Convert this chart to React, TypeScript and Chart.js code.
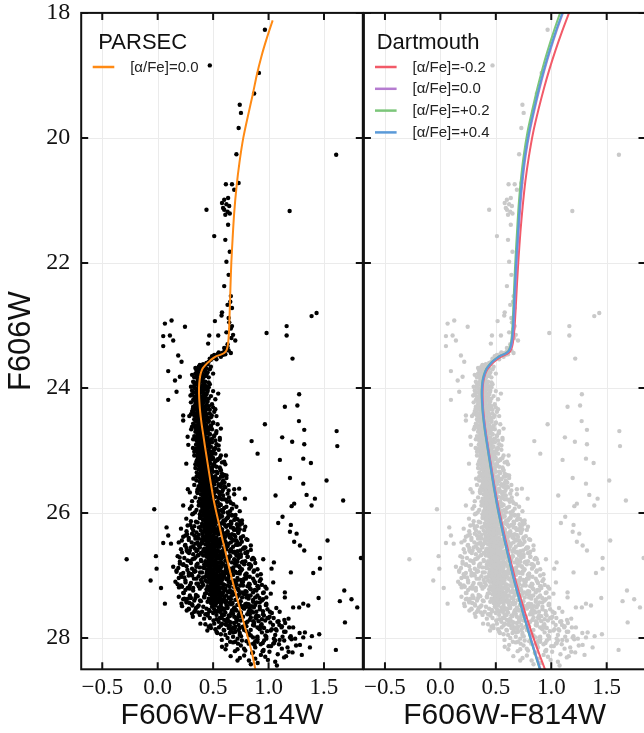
import React, { useEffect, useRef } from "react";
import { Chart, registerables } from "chart.js";

Chart.register(...registerables);

type P = [number, number];

// ---------- axes ----------
const xTicks = [-0.5, 0, 0.5, 1, 1.5];
const yTicks = [18, 20, 22, 24, 26, 28];
const xRange: P = [-0.69, 1.85];
const yRange: P = [18, 28.5];
const xTitle = "F606W-F814W";
const yTitle = "F606W";

// ---------- legends ----------
const parsecTitle = "PARSEC";
const parsecLabels = ["[α/Fe]=0.0"];
const dartmouthTitle = "Dartmouth";
const dartmouthLabels = ["[α/Fe]=-0.2", "[α/Fe]=0.0", "[α/Fe]=+0.2", "[α/Fe]=+0.4"];
const parsecColors = ["#ff8a14"];
const dartmouthColors = ["#f25a68", "#b57cd0", "#7cc67a", "#5a9ad8"];

// ---------- stars (color, magnitude) ----------
const rgbStars: P[] = [
  [0.967,18.27],[0.913,18.96],[0.87,19.29],[0.751,19.60],[0.47,18.84],[0.74,19.47],[0.73,19.84],[0.71,20.26],
  [0.615,20.74],[0.67,20.74],[0.73,20.72],[0.69,20.83],[0.60,20.99],[0.62,21.06],[0.59,21.12],[0.63,21.18],
  [0.61,21.23],[0.645,21.09],[0.58,21.04],[0.635,20.96],[0.60,21.15],[0.65,21.21],[0.44,21.15],[0.51,21.57],
  [0.635,21.39],[0.61,21.63],[0.65,21.82],[0.62,21.98],[0.64,22.19],[0.60,22.37],[0.66,22.53],[0.63,22.67],
  [0.58,22.79],[0.64,22.88],[0.67,23.01],[0.62,23.11],[0.665,23.20],[0.63,23.30],[0.70,23.24],[0.465,23.16],
  [0.546,23.16],[0.516,22.93],[0.576,22.84],[0.455,23.29],[0.655,22.62],[0.67,22.72],[0.645,22.95],[0.66,23.05],
  [0.68,23.15],[1.19,21.17],[1.61,20.27]
];

const blueStragglers: P[] = [
  [0.065,22.97],[0.125,22.92],[0.05,23.17],[0.11,23.16],[0.05,23.33],[0.14,23.24],[0.246,23.02],[0.185,23.48],
  [0.215,23.58],[0.095,23.73],[0.156,23.88],[0.2,23.82],[0.17,24.06],[0.095,24.19],[0.23,24.44],[0.23,24.52],
  [0.276,24.91],[0.5,23.77],[0.546,24.09]
];

const subgiantStars: P[] = [
  [0.62,23.38],[0.60,23.42],[0.58,23.44],[0.64,23.40],[0.56,23.47],[0.54,23.46],[0.52,23.50],[0.50,23.52],
  [0.48,23.55],[0.47,23.53],[0.46,23.58],[0.44,23.60],[0.55,23.43],[0.59,23.47],[0.51,23.47],[0.53,23.54],
  [0.57,23.50],[0.61,23.46],[0.63,23.35],[0.49,23.49],[0.45,23.62],[0.43,23.64],[0.42,23.67],[0.41,23.62],
  [0.66,23.44],[0.60,23.36],
  [0.38,23.70],[0.40,23.68],[0.36,23.74],[0.42,23.72],[0.39,23.76],[0.35,23.80],[0.44,23.69],[0.37,23.66],
  [0.41,23.79],[0.34,23.77],[0.43,23.81],[0.38,23.84],[0.36,23.69],[0.40,23.73],[0.45,23.75],[0.33,23.83],
  [0.39,23.82],[0.42,23.65],[0.37,23.78],[0.47,23.70],[0.35,23.72],[0.41,23.84],[0.44,23.78],[0.38,23.63],
  [0.36,23.85],[0.48,23.66],[0.40,23.64],[0.34,23.68],[0.43,23.74],[0.39,23.71],[0.31,23.79],[0.46,23.83]
];

const msBright: P[] = [
  [0.36,23.88],[0.38,23.91],[0.34,23.94],[0.40,23.89],[0.37,23.97],[0.33,23.99],[0.42,23.93],[0.35,24.02],
  [0.39,24.00],[0.41,24.04],[0.36,23.95],[0.38,24.03],[0.32,23.90],[0.44,23.97],[0.37,23.86],[0.40,23.96],
  [0.34,24.01],[0.43,24.02],[0.35,23.92],[0.39,23.87],[0.31,24.04],[0.46,23.91],[0.38,23.98],[0.36,24.05],
  [0.41,23.90],[0.33,23.96],[0.42,24.00],[0.37,23.93],[0.30,23.98],[0.45,24.04],
  [0.35,24.08],[0.37,24.11],[0.39,24.07],[0.33,24.14],[0.41,24.12],[0.36,24.17],[0.38,24.20],[0.34,24.22],
  [0.40,24.18],[0.42,24.09],[0.32,24.19],[0.37,24.24],[0.35,24.13],[0.39,24.15],[0.44,24.21],[0.36,24.06],
  [0.31,24.10],[0.38,24.16],[0.41,24.24],[0.34,24.18],[0.43,24.14],[0.37,24.09],[0.30,24.23],[0.40,24.21],
  [0.36,24.25],[0.46,24.17],[0.33,24.07],[0.39,24.23],[0.35,24.20],[0.42,24.19],
  [0.36,24.28],[0.38,24.31],[0.34,24.34],[0.40,24.29],[0.37,24.37],[0.33,24.40],[0.42,24.33],[0.35,24.43],
  [0.39,24.38],[0.41,24.42],[0.36,24.35],[0.44,24.27],[0.32,24.30],[0.38,24.44],[0.40,24.36],[0.34,24.26],
  [0.43,24.39],[0.37,24.41],[0.31,24.37],[0.45,24.34],[0.35,24.32],[0.39,24.27],[0.42,24.45],[0.36,24.39],
  [0.47,24.41],[0.33,24.44],[0.38,24.29],[0.41,24.31],[0.30,24.42],[0.36,24.30],
  [0.37,24.48],[0.39,24.51],[0.35,24.54],[0.41,24.49],[0.38,24.57],[0.34,24.60],[0.43,24.53],[0.36,24.63],
  [0.40,24.58],[0.42,24.62],[0.37,24.55],[0.45,24.47],[0.33,24.50],[0.39,24.64],[0.41,24.56],[0.35,24.46],
  [0.44,24.59],[0.38,24.61],[0.32,24.57],[0.46,24.54],[0.36,24.52],[0.40,24.47],[0.43,24.65],[0.37,24.59],
  [0.48,24.61],[0.34,24.64],[0.39,24.49],[0.42,24.51],[0.31,24.62],[0.38,24.53],[0.50,24.56],[0.44,24.50],
  [0.37,24.68],[0.40,24.71],[0.36,24.74],[0.42,24.69],[0.39,24.77],[0.35,24.80],[0.44,24.73],[0.37,24.83],
  [0.41,24.78],[0.43,24.82],[0.38,24.75],[0.46,24.67],[0.34,24.70],[0.40,24.84],[0.42,24.76],[0.36,24.66],
  [0.45,24.79],[0.39,24.81],[0.33,24.77],[0.47,24.74],[0.37,24.72],[0.41,24.67],[0.44,24.85],[0.38,24.79],
  [0.49,24.81],[0.35,24.84],[0.40,24.69],[0.43,24.71],[0.32,24.82],[0.39,24.73],[0.51,24.76],[0.45,24.70],
  [0.48,24.83],[0.36,24.78],
  [0.38,24.88],[0.41,24.91],[0.37,24.94],[0.43,24.89],[0.40,24.97],[0.36,25.00],[0.45,24.93],[0.38,25.03],
  [0.42,24.98],[0.44,25.02],[0.39,24.95],[0.47,24.87],[0.35,24.90],[0.41,25.04],[0.43,24.96],[0.37,24.86],
  [0.46,24.99],[0.40,25.01],[0.34,24.97],[0.48,24.94],[0.38,24.92],[0.42,24.87],[0.45,25.05],[0.39,24.99],
  [0.50,25.01],[0.36,25.04],[0.41,24.89],[0.44,24.91],[0.33,25.02],[0.40,24.93],[0.52,24.96],[0.46,24.90],
  [0.49,25.03],[0.37,24.98],[0.55,24.92],[0.43,25.00]
];

const msBrightExtra: P[] = [
  [0.335,23.93],[0.412,23.95],[0.357,24.03],[0.448,24.06],[0.296,24.12],[0.384,24.13],[0.426,24.16],[0.352,24.27],
  [0.318,24.33],[0.463,24.29],[0.397,24.35],[0.374,24.46],[0.339,24.52],[0.488,24.44],[0.421,24.57],[0.302,24.66],
  [0.455,24.64],[0.365,24.71],[0.528,24.72],[0.412,24.86],[0.346,24.91],[0.472,24.84],[0.391,24.95],[0.512,24.98],
  [0.318,24.96],[0.431,25.03],[0.366,25.05],[0.489,25.06],[0.405,25.12],[0.542,25.14],[0.356,25.15],[0.462,25.17],
  [0.417,25.26],[0.377,25.29],[0.508,25.24],[0.441,25.33],[0.352,25.35],[0.566,25.30],[0.398,25.41],[0.481,25.42],
  [0.434,25.46],[0.322,25.45],[0.527,25.49],[0.456,25.55],[0.386,25.53],[0.603,25.51],[0.419,25.62],[0.497,25.60],
  [0.356,25.66],[0.468,25.69],[0.542,25.66],[0.404,25.72],[0.438,25.78],[0.517,25.74],[0.379,25.86],[0.482,25.83],
  [0.626,25.82],[0.455,25.90],[0.553,25.89],[0.404,25.93],[0.509,25.97],[0.336,25.99],[0.582,25.95],[0.447,25.98],
  [0.682,25.86],[0.305,25.89],[0.643,25.75],[0.586,25.41],[0.258,25.21],[0.615,25.08],[0.560,24.83],[0.285,24.45],
  [0.520,24.34],[0.270,24.78],[0.588,25.63],[0.652,25.97],[0.272,25.62]
];

const msRedSide: P[] = [
  [0.43,23.90],[0.47,23.94],[0.45,24.01],[0.50,24.05],[0.44,24.10],[0.48,24.13],[0.52,24.18],[0.45,24.22],
  [0.49,24.26],[0.43,24.30],[0.47,24.35],[0.51,24.38],[0.44,24.42],[0.48,24.47],[0.53,24.45],[0.46,23.99],
  [0.42,24.37],[0.50,24.31],
  [0.46,24.52],[0.50,24.55],[0.54,24.58],[0.45,24.63],[0.49,24.66],[0.53,24.69],[0.47,24.74],[0.51,24.77],
  [0.56,24.80],[0.45,24.83],[0.49,24.87],[0.53,24.90],[0.47,24.94],[0.51,24.97],[0.55,24.99],[0.48,24.60],
  [0.52,24.84],[0.44,24.92],[0.57,24.65],
  [0.48,25.02],[0.52,25.05],[0.57,25.08],[0.50,25.12],[0.54,25.15],[0.60,25.18],[0.47,25.21],[0.51,25.24],
  [0.56,25.27],[0.49,25.31],[0.53,25.34],[0.58,25.37],[0.62,25.40],[0.50,25.43],[0.55,25.46],[0.59,25.48],
  [0.46,25.36],[0.61,25.22],[0.52,25.17],[0.57,25.42],
  [0.51,25.51],[0.55,25.54],[0.60,25.57],[0.49,25.60],[0.53,25.63],[0.58,25.66],[0.63,25.69],[0.50,25.72],
  [0.55,25.75],[0.60,25.78],[0.65,25.81],[0.52,25.84],[0.57,25.87],[0.62,25.90],[0.67,25.93],[0.54,25.96],
  [0.59,25.99],[0.64,25.55],[0.48,25.85],[0.69,25.62],[0.56,25.70],
  [0.53,26.02],[0.58,26.05],[0.63,26.08],[0.69,26.11],[0.51,26.14],[0.56,26.17],[0.61,26.20],[0.66,26.23],
  [0.72,26.26],[0.54,26.29],[0.59,26.32],[0.64,26.35],[0.70,26.38],[0.75,26.41],[0.52,26.44],[0.57,26.47],
  [0.62,26.49],[0.67,26.03],[0.74,26.19],[0.60,26.40],[0.55,26.09],
  [0.55,26.52],[0.60,26.55],[0.66,26.58],[0.72,26.61],[0.79,26.64],[0.53,26.67],[0.58,26.70],[0.64,26.73],
  [0.70,26.76],[0.76,26.79],[0.83,26.82],[0.56,26.85],[0.62,26.88],[0.68,26.91],[0.74,26.94],[0.80,26.97],
  [0.59,26.99],[0.65,26.62],[0.71,26.68],[0.50,26.92],[0.85,26.74],[0.77,26.57],
  [0.57,27.02],[0.63,27.05],[0.69,27.08],[0.76,27.11],[0.83,27.14],[0.90,27.17],[0.55,27.20],[0.61,27.23],
  [0.67,27.26],[0.74,27.29],[0.81,27.32],[0.88,27.35],[0.95,27.38],[0.59,27.41],[0.65,27.44],[0.72,27.47],
  [0.79,27.49],[0.86,27.27],[0.93,27.06],[0.53,27.37],[0.70,27.17],[0.98,27.45],
  [0.60,27.53],[0.67,27.56],[0.75,27.59],[0.83,27.62],[0.91,27.65],[0.99,27.68],[0.63,27.71],[0.71,27.74],
  [0.79,27.77],[0.87,27.80],[0.95,27.83],[1.03,27.86],[0.66,27.89],[0.74,27.92],[0.82,27.95],[0.90,27.98],
  [0.98,28.01],[1.06,28.04],[0.70,28.06],[0.86,28.09],[1.09,27.73]
];

const msWings: P[] = [
  [0.21,26.25],[0.26,26.29],[0.31,26.24],[0.35,26.31],[0.23,26.38],[0.28,26.43],[0.33,26.36],[0.19,26.47],
  [0.25,26.51],[0.30,26.55],[0.34,26.49],[0.21,26.58],[0.27,26.62],[0.32,26.66],[0.36,26.59],[0.18,26.69],
  [0.24,26.72],[0.29,26.77],[0.34,26.71],[0.20,26.81],[0.26,26.85],[0.31,26.89],[0.35,26.83],[0.17,26.92],
  [0.23,26.96],[0.28,27.00],[0.33,26.94],[0.19,27.04],[0.25,27.08],[0.30,27.12],[0.35,27.05],[0.21,27.16],
  [0.27,27.20],[0.32,27.24],[0.37,27.17],[0.23,27.28],[0.29,27.32],[0.34,27.36],[0.26,27.41],[0.31,27.46],
  [0.36,27.50],[0.28,27.54],[0.33,27.58],[0.38,27.63],[0.22,27.49],[0.16,27.10],[0.14,26.86],[0.37,26.41],
  [0.24,27.37],[0.30,26.98],
  [0.64,26.03],[0.70,26.08],[0.76,26.12],[0.66,26.18],[0.72,26.23],[0.78,26.27],[0.63,26.31],[0.69,26.35],
  [0.75,26.39],[0.81,26.43],[0.66,26.47],[0.72,26.51],[0.78,26.55],[0.84,26.59],[0.69,26.62],[0.75,26.66],
  [0.81,26.70],[0.87,26.74],[0.72,26.78],[0.78,26.82],[0.84,26.86],[0.90,26.90],[0.67,26.93],[0.74,26.97],
  [0.80,27.01],[0.86,27.05],[0.92,27.09],[0.70,27.12],[0.77,27.16],[0.83,27.20],[0.89,27.24],[0.95,27.28],
  [0.73,27.31],[0.80,27.35],[0.86,27.39],[0.92,27.43],[0.98,27.47],[0.76,27.50],[0.83,27.54],[0.89,27.58],
  [0.95,27.62],[1.01,27.66],[0.62,26.70],[0.65,27.27],[0.68,27.55],[0.71,26.44],[0.60,26.96],[0.74,26.26],
  [0.93,26.98],[0.97,27.18],
  [0.39,26.05],[0.44,26.02],[0.58,26.27],[0.40,26.46],[0.61,26.45],[0.39,26.64],[0.60,26.64],[0.41,26.87],
  [0.62,26.84],[0.40,27.11],[0.64,27.10],[0.42,27.33],[0.65,27.35],[0.44,27.53],[0.67,27.45],[0.47,27.68],
  [0.69,27.66],[0.52,27.86],[0.73,27.87],[0.58,28.14]
];

const msMid: P[] = [
  [0.39,25.08],[0.42,25.11],[0.38,25.14],[0.44,25.09],[0.41,25.17],[0.37,25.20],[0.46,25.13],[0.39,25.23],
  [0.43,25.18],[0.45,25.22],[0.40,25.15],[0.48,25.07],[0.36,25.10],[0.42,25.24],[0.44,25.16],[0.38,25.06],
  [0.47,25.19],[0.41,25.21],[0.35,25.17],[0.49,25.14],[0.39,25.12],[0.43,25.07],[0.46,25.25],[0.40,25.19],
  [0.51,25.21],[0.37,25.24],[0.42,25.09],[0.45,25.11],[0.34,25.22],[0.41,25.13],[0.53,25.16],[0.47,25.10],
  [0.50,25.23],[0.38,25.18],[0.56,25.12],[0.44,25.20],[0.33,25.08],[0.58,25.19],
  [0.40,25.28],[0.43,25.31],[0.39,25.34],[0.45,25.29],[0.42,25.37],[0.38,25.40],[0.47,25.33],[0.40,25.43],
  [0.44,25.38],[0.46,25.42],[0.41,25.35],[0.49,25.27],[0.37,25.30],[0.43,25.44],[0.45,25.36],[0.39,25.26],
  [0.48,25.39],[0.42,25.41],[0.36,25.37],[0.50,25.34],[0.40,25.32],[0.44,25.27],[0.47,25.45],[0.41,25.39],
  [0.52,25.41],[0.38,25.44],[0.43,25.29],[0.46,25.31],[0.35,25.42],[0.42,25.33],[0.54,25.36],[0.48,25.30],
  [0.51,25.43],[0.39,25.38],[0.57,25.32],[0.45,25.40],[0.34,25.28],[0.60,25.39],[0.53,25.26],[0.62,25.44],
  [0.41,25.48],[0.44,25.51],[0.40,25.54],[0.46,25.49],[0.43,25.57],[0.39,25.60],[0.48,25.53],[0.41,25.63],
  [0.45,25.58],[0.47,25.62],[0.42,25.55],[0.50,25.47],[0.38,25.50],[0.44,25.64],[0.46,25.56],[0.40,25.46],
  [0.49,25.59],[0.43,25.61],[0.37,25.57],[0.51,25.54],[0.41,25.52],[0.45,25.47],[0.48,25.65],[0.42,25.59],
  [0.53,25.61],[0.39,25.64],[0.44,25.49],[0.47,25.51],[0.36,25.62],[0.43,25.53],[0.55,25.56],[0.49,25.50],
  [0.52,25.63],[0.40,25.58],[0.58,25.52],[0.46,25.60],[0.35,25.48],[0.61,25.59],[0.54,25.46],[0.64,25.64],
  [0.57,25.58],[0.33,25.55],
  [0.42,25.68],[0.45,25.71],[0.41,25.74],[0.47,25.69],[0.44,25.77],[0.40,25.80],[0.49,25.73],[0.42,25.83],
  [0.46,25.78],[0.48,25.82],[0.43,25.75],[0.51,25.67],[0.39,25.70],[0.45,25.84],[0.47,25.76],[0.41,25.66],
  [0.50,25.79],[0.44,25.81],[0.38,25.77],[0.52,25.74],[0.42,25.72],[0.46,25.67],[0.49,25.85],[0.43,25.79],
  [0.54,25.81],[0.40,25.84],[0.45,25.69],[0.48,25.71],[0.37,25.82],[0.44,25.73],[0.56,25.76],[0.50,25.70],
  [0.53,25.83],[0.41,25.78],[0.59,25.72],[0.47,25.80],[0.36,25.68],[0.62,25.79],[0.55,25.66],[0.66,25.84],
  [0.58,25.78],[0.34,25.75],[0.69,25.70],[0.31,25.81],
  [0.43,25.88],[0.46,25.91],[0.42,25.94],[0.48,25.89],[0.45,25.97],[0.41,26.00],[0.50,25.93],[0.43,26.03],
  [0.47,25.98],[0.49,26.02],[0.44,25.95],[0.52,25.87],[0.40,25.90],[0.46,26.04],[0.48,25.96],[0.42,25.86],
  [0.51,25.99],[0.45,26.01],[0.39,25.97],[0.53,25.94],[0.43,25.92],[0.47,25.87],[0.50,26.05],[0.44,25.99],
  [0.55,26.01],[0.41,26.04],[0.46,25.89],[0.49,25.91],[0.38,26.02],[0.45,25.93],[0.57,25.96],[0.51,25.90],
  [0.54,26.03],[0.42,25.98],[0.60,25.92],[0.48,26.00],[0.37,25.88],[0.63,25.99],[0.56,25.86],[0.67,26.04],
  [0.59,25.98],[0.35,25.95],[0.71,25.90],[0.32,26.01],[0.74,25.97],[0.29,25.93],
  [0.44,26.08],[0.47,26.11],[0.43,26.14],[0.49,26.09],[0.46,26.17],[0.42,26.20],[0.51,26.13],[0.44,26.23],
  [0.48,26.18],[0.50,26.22],[0.45,26.15],[0.53,26.07],[0.41,26.10],[0.47,26.24],[0.49,26.16],[0.43,26.06],
  [0.52,26.19],[0.46,26.21],[0.40,26.17],[0.54,26.14],[0.44,26.12],[0.48,26.07],[0.51,26.25],[0.45,26.19],
  [0.56,26.21],[0.42,26.24],[0.47,26.09],[0.50,26.11],[0.39,26.22],[0.46,26.13],[0.58,26.16],[0.52,26.10],
  [0.55,26.23],[0.43,26.18],[0.61,26.12],[0.49,26.20],[0.38,26.08],[0.64,26.19],[0.57,26.06],[0.68,26.24],
  [0.60,26.18],[0.36,26.15],[0.72,26.10],[0.33,26.21],[0.76,26.17],[0.30,26.13],[0.62,26.09],[0.66,26.14],
  [0.27,26.20],[0.79,26.22],
  [0.45,26.28],[0.48,26.31],[0.44,26.34],[0.50,26.29],[0.47,26.37],[0.43,26.40],[0.52,26.33],[0.45,26.43],
  [0.49,26.38],[0.51,26.42],[0.46,26.35],[0.54,26.27],[0.42,26.30],[0.48,26.44],[0.50,26.36],[0.44,26.26],
  [0.53,26.39],[0.47,26.41],[0.41,26.37],[0.55,26.34],[0.45,26.32],[0.49,26.27],[0.52,26.45],[0.46,26.39],
  [0.57,26.41],[0.43,26.44],[0.48,26.29],[0.51,26.31],[0.40,26.42],[0.47,26.33],[0.59,26.36],[0.53,26.30],
  [0.56,26.43],[0.44,26.38],[0.62,26.32],[0.50,26.40],[0.39,26.28],[0.65,26.39],[0.58,26.26],[0.69,26.44],
  [0.61,26.38],[0.37,26.35],[0.73,26.30],[0.34,26.41],[0.77,26.37],[0.31,26.33],[0.63,26.29],[0.67,26.34],
  [0.28,26.40],[0.80,26.42],[0.25,26.36],[0.71,26.27]
];

const msMidExtra: P[] = [
  [0.312,26.02],[0.385,26.05],[0.567,26.04],[0.633,26.07],[0.702,26.03],[0.258,26.09],[0.345,26.14],[0.408,26.11],
  [0.593,26.12],[0.665,26.16],[0.742,26.13],[0.296,26.19],[0.372,26.23],[0.527,26.26],[0.618,26.22],[0.688,26.27],
  [0.321,26.28],[0.402,26.33],[0.556,26.31],[0.645,26.35],[0.725,26.32],[0.265,26.34],[0.351,26.38],[0.428,26.41],
  [0.583,26.44],[0.662,26.40],[0.759,26.46],[0.218,26.44],[0.307,26.47],[0.387,26.50],[0.571,26.49],[0.628,26.53],
  [0.705,26.51],[0.791,26.55],[0.246,26.52],[0.336,26.57],[0.413,26.59],[0.549,26.61],[0.607,26.58],[0.681,26.63],
  [0.746,26.60],[0.283,26.64],[0.362,26.68],[0.437,26.66],[0.592,26.70],[0.654,26.69],[0.728,26.72],[0.812,26.70],
  [0.198,26.71],[0.314,26.74],[0.393,26.77],[0.466,26.73],[0.575,26.79],[0.636,26.76],[0.697,26.81],[0.768,26.78],
  [0.842,26.84],[0.232,26.82],[0.349,26.86],[0.421,26.88],[0.562,26.85],[0.622,26.90],[0.683,26.87],[0.753,26.92],
  [0.826,26.89],[0.268,26.91],[0.382,26.95],[0.445,26.93],[0.588,26.97],[0.648,26.99],[0.714,26.96],[0.789,26.99],
  [0.301,26.98],[0.186,26.88],[0.865,26.94],[0.518,26.80],[0.535,26.42],[0.498,26.12],[0.612,26.92],[0.458,26.55],
  [0.372,26.52],[0.734,26.85],[0.262,26.60],[0.566,26.66],[0.505,26.97],[0.676,26.43],[0.328,26.92],[0.431,26.27],
  [0.805,26.64],[0.715,26.18]
];

const msFaint: P[] = [
  [0.46,26.48],[0.49,26.51],[0.45,26.54],[0.51,26.49],[0.48,26.57],[0.44,26.60],[0.53,26.53],[0.46,26.63],
  [0.50,26.58],[0.52,26.62],[0.47,26.55],[0.55,26.47],[0.43,26.50],[0.49,26.64],[0.51,26.56],[0.45,26.46],
  [0.54,26.59],[0.48,26.61],[0.42,26.57],[0.56,26.54],[0.46,26.52],[0.50,26.47],[0.53,26.65],[0.47,26.59],
  [0.58,26.61],[0.44,26.64],[0.49,26.49],[0.52,26.51],[0.41,26.62],[0.48,26.53],[0.60,26.56],[0.54,26.50],
  [0.57,26.63],[0.45,26.58],[0.63,26.52],[0.51,26.60],[0.40,26.48],[0.66,26.59],[0.59,26.46],[0.70,26.64],
  [0.62,26.58],[0.38,26.55],[0.74,26.50],[0.35,26.61],[0.78,26.57],[0.32,26.53],[0.64,26.49],[0.68,26.54],
  [0.29,26.60],[0.81,26.62],[0.26,26.56],[0.72,26.47],[0.22,26.63],[0.84,26.52],[0.36,26.47],
  [0.47,26.68],[0.50,26.71],[0.46,26.74],[0.52,26.69],[0.49,26.77],[0.45,26.80],[0.54,26.73],[0.47,26.83],
  [0.51,26.78],[0.53,26.82],[0.48,26.75],[0.56,26.67],[0.44,26.70],[0.50,26.84],[0.52,26.76],[0.46,26.66],
  [0.55,26.79],[0.49,26.81],[0.43,26.77],[0.57,26.74],[0.47,26.72],[0.51,26.67],[0.54,26.85],[0.48,26.79],
  [0.59,26.81],[0.45,26.84],[0.50,26.69],[0.53,26.71],[0.42,26.82],[0.49,26.73],[0.61,26.76],[0.55,26.70],
  [0.58,26.83],[0.46,26.78],[0.64,26.72],[0.52,26.80],[0.41,26.68],[0.67,26.79],[0.60,26.66],[0.71,26.84],
  [0.63,26.78],[0.39,26.75],[0.75,26.70],[0.36,26.81],[0.79,26.77],[0.33,26.73],[0.65,26.69],[0.69,26.74],
  [0.30,26.80],[0.82,26.82],[0.27,26.76],[0.73,26.67],[0.23,26.83],[0.86,26.72],[0.20,26.78],[0.37,26.67],
  [0.88,26.80],
  [0.48,26.88],[0.51,26.91],[0.47,26.94],[0.53,26.89],[0.50,26.97],[0.46,27.00],[0.55,26.93],[0.48,27.03],
  [0.52,26.98],[0.54,27.02],[0.49,26.95],[0.57,26.87],[0.45,26.90],[0.51,27.04],[0.53,26.96],[0.47,26.86],
  [0.56,26.99],[0.50,27.01],[0.44,26.97],[0.58,26.94],[0.48,26.92],[0.52,26.87],[0.55,27.05],[0.49,26.99],
  [0.60,27.01],[0.46,27.04],[0.51,26.89],[0.54,26.91],[0.43,27.02],[0.50,26.93],[0.62,26.96],[0.56,26.90],
  [0.59,27.03],[0.47,26.98],[0.65,26.92],[0.53,27.00],[0.42,26.88],[0.68,26.99],[0.61,26.86],[0.72,27.04],
  [0.64,26.98],[0.40,26.95],[0.76,26.90],[0.37,27.01],[0.80,26.97],[0.34,26.93],[0.66,26.89],[0.70,26.94],
  [0.31,27.00],[0.83,27.02],[0.28,26.96],[0.74,26.87],[0.24,27.03],[0.87,26.92],[0.21,26.98],[0.38,26.87],
  [0.90,27.00],[0.17,26.94],[0.78,27.05],
  [0.49,27.08],[0.52,27.11],[0.48,27.14],[0.54,27.09],[0.51,27.17],[0.47,27.20],[0.56,27.13],[0.49,27.23],
  [0.53,27.18],[0.55,27.22],[0.50,27.15],[0.58,27.07],[0.46,27.10],[0.52,27.24],[0.54,27.16],[0.48,27.06],
  [0.57,27.19],[0.51,27.21],[0.45,27.17],[0.59,27.14],[0.49,27.12],[0.53,27.07],[0.56,27.25],[0.50,27.19],
  [0.61,27.21],[0.47,27.24],[0.52,27.09],[0.55,27.11],[0.44,27.22],[0.51,27.13],[0.63,27.16],[0.57,27.10],
  [0.60,27.23],[0.48,27.18],[0.66,27.12],[0.54,27.20],[0.43,27.08],[0.69,27.19],[0.62,27.06],[0.73,27.24],
  [0.65,27.18],[0.41,27.15],[0.77,27.10],[0.38,27.21],[0.81,27.17],[0.35,27.13],[0.67,27.09],[0.71,27.14],
  [0.32,27.20],[0.84,27.22],[0.29,27.16],[0.75,27.07],[0.25,27.23],[0.88,27.12],[0.22,27.18],[0.39,27.07],
  [0.91,27.20],[0.18,27.14],[0.79,27.25],[0.94,27.15],
  [0.50,27.28],[0.53,27.31],[0.49,27.34],[0.55,27.29],[0.52,27.37],[0.48,27.40],[0.57,27.33],[0.50,27.43],
  [0.54,27.38],[0.56,27.42],[0.51,27.35],[0.59,27.27],[0.47,27.30],[0.53,27.44],[0.55,27.36],[0.49,27.26],
  [0.58,27.39],[0.52,27.41],[0.46,27.37],[0.60,27.34],[0.50,27.32],[0.54,27.27],[0.57,27.45],[0.51,27.39],
  [0.62,27.41],[0.48,27.44],[0.53,27.29],[0.56,27.31],[0.45,27.42],[0.52,27.33],[0.64,27.36],[0.58,27.30],
  [0.61,27.43],[0.49,27.38],[0.67,27.32],[0.55,27.40],[0.44,27.28],[0.70,27.39],[0.63,27.26],[0.74,27.44],
  [0.66,27.38],[0.42,27.35],[0.78,27.30],[0.39,27.41],[0.82,27.37],[0.36,27.33],[0.68,27.29],[0.72,27.34],
  [0.33,27.40],[0.86,27.42],[0.30,27.36],[0.76,27.27],[0.26,27.43],[0.90,27.32],[0.23,27.38],[0.94,27.40],
  [0.19,27.34],[0.80,27.45],[0.98,27.35],[1.02,27.29]
];

const msFaintExtra: P[] = [
  [0.216,27.02],[0.327,27.05],[0.408,27.03],[0.572,27.06],[0.638,27.04],[0.715,27.08],[0.796,27.05],[0.872,27.09],
  [0.251,27.11],[0.364,27.13],[0.446,27.10],[0.601,27.15],[0.667,27.12],[0.744,27.16],[0.823,27.13],[0.905,27.17],
  [0.192,27.19],[0.288,27.21],[0.397,27.18],[0.523,27.22],[0.586,27.20],[0.652,27.24],[0.723,27.21],[0.802,27.26],
  [0.876,27.23],[0.957,27.27],[0.236,27.28],[0.345,27.31],[0.427,27.29],[0.618,27.32],[0.689,27.30],[0.761,27.35],
  [0.838,27.32],[0.918,27.36],[0.272,27.37],[0.382,27.40],[0.468,27.38],[0.547,27.42],[0.603,27.39],[0.676,27.44],
  [0.749,27.41],[0.821,27.46],[0.893,27.43],[0.975,27.47],[0.214,27.45],[0.313,27.48],[0.411,27.50],[0.495,27.47],
  [0.563,27.53],[0.629,27.50],[0.701,27.55],[0.773,27.52],[0.847,27.57],[0.921,27.54],[1.012,27.58],[0.262,27.56],
  [0.366,27.59],[0.452,27.61],[0.527,27.57],[0.598,27.63],[0.663,27.60],[0.736,27.65],[0.808,27.62],[0.881,27.67],
  [0.958,27.64],[1.046,27.68],[0.317,27.66],[0.419,27.69],[0.503,27.72],[0.574,27.68],[0.645,27.74],[0.718,27.71],
  [0.791,27.76],[0.862,27.73],[0.937,27.78],[1.016,27.75],[1.097,27.79],[0.385,27.77],[0.476,27.80],[0.552,27.83],
  [0.622,27.79],[0.694,27.85],[0.767,27.82],[0.839,27.87],[0.912,27.84],[0.987,27.89],[1.066,27.86],[1.153,27.90],
  [0.448,27.88],[0.537,27.92],[0.611,27.95],[0.682,27.91],[0.752,27.97],[0.826,27.94],[0.897,27.99],[0.971,27.96],
  [1.048,28.01],[1.126,27.98],[1.207,28.02],[0.578,28.03],[0.653,28.06],[0.724,28.09],[0.801,28.05],[0.873,28.11],
  [0.948,28.08],[1.022,28.13],[1.094,28.10],[1.171,28.15],[1.248,28.12],[0.612,28.18],[0.697,28.21],[0.779,28.17],
  [0.852,28.24],[0.931,28.27],[1.008,28.22],[1.083,28.26],[1.158,28.29],[0.741,28.32],[0.823,28.36],[0.902,28.40],
  [0.994,28.35],[1.075,28.44],[0.658,28.29],[1.28,27.92],[1.30,28.27],[0.565,27.38],[0.488,27.27],[0.542,27.14],
  [0.463,27.55],[0.728,27.47],[0.595,27.87],[0.955,28.19],[0.868,27.51],[0.345,27.52],[0.287,27.44],[1.142,27.71],
  [1.186,27.83]
];

const msFaintest: P[] = [
  [0.52,27.48],[0.55,27.51],[0.51,27.54],[0.57,27.49],[0.54,27.57],[0.50,27.60],[0.59,27.53],[0.53,27.63],
  [0.56,27.58],[0.58,27.62],[0.60,27.55],[0.62,27.47],[0.49,27.50],[0.64,27.64],[0.57,27.56],[0.66,27.46],
  [0.61,27.59],[0.68,27.61],[0.47,27.57],[0.70,27.54],[0.63,27.52],[0.72,27.47],[0.65,27.65],[0.74,27.59],
  [0.67,27.61],[0.45,27.64],[0.76,27.49],[0.69,27.51],[0.43,27.62],[0.78,27.53],[0.71,27.56],[0.80,27.50],
  [0.73,27.63],[0.40,27.58],[0.83,27.52],[0.75,27.60],[0.37,27.48],[0.86,27.59],[0.79,27.46],[0.89,27.64],
  [0.82,27.58],[0.34,27.55],[0.92,27.50],[0.31,27.61],[0.95,27.57],[0.28,27.53],[0.85,27.49],[0.99,27.54],
  [1.03,27.60],[1.07,27.52],[0.88,27.47],[1.10,27.58],[0.58,27.65],
  [0.56,27.68],[0.60,27.71],[0.55,27.74],[0.63,27.69],[0.58,27.77],[0.65,27.80],[0.62,27.73],[0.68,27.83],
  [0.61,27.78],[0.70,27.82],[0.66,27.75],[0.72,27.67],[0.53,27.70],[0.74,27.84],[0.69,27.76],[0.77,27.66],
  [0.73,27.79],[0.79,27.81],[0.51,27.77],[0.81,27.74],[0.75,27.72],[0.84,27.67],[0.78,27.85],[0.86,27.79],
  [0.80,27.81],[0.48,27.84],[0.89,27.69],[0.83,27.71],[0.46,27.82],[0.91,27.73],[0.87,27.76],[0.94,27.70],
  [0.90,27.83],[0.43,27.78],[0.97,27.72],[0.93,27.80],[1.00,27.68],[1.04,27.79],[1.08,27.74],[1.12,27.81],
  [0.64,27.84],[0.71,27.70],[0.57,27.80],[0.96,27.84],[1.15,27.76],[1.18,27.69],
  [0.60,27.88],[0.65,27.92],[0.70,27.90],[0.74,27.95],[0.68,27.98],[0.78,27.87],[0.72,28.01],[0.82,27.93],
  [0.76,28.04],[0.86,27.99],[0.80,27.89],[0.90,28.02],[0.84,27.96],[0.94,27.91],[0.88,28.05],[0.63,28.00],
  [0.57,27.94],[0.98,27.98],[1.02,27.88],[1.06,27.95],[0.92,27.86],[1.10,28.03],[1.14,27.90],[0.66,27.86],
  [1.20,27.97],[0.53,27.90],[0.96,28.04],[1.24,28.01],
  [0.68,28.07],[0.75,28.12],[0.82,28.09],[0.88,28.15],[0.79,28.20],[0.93,28.10],[0.72,28.18],[1.00,28.13],
  [0.86,28.23],[1.05,28.08],[0.95,28.21],[1.12,28.17],[0.62,28.11],[1.18,28.22],[0.90,28.06],
  [0.78,28.28],[0.88,28.33],[0.97,28.30],[1.06,28.38],[0.84,28.42],[1.14,28.31],[0.72,28.36]
];

const fieldStars: P[] = [
  [0.982,23.12],[1.163,23.01],[1.163,23.16],[1.216,23.53],[1.388,22.85],[1.433,22.80],[1.276,24.10],[1.147,24.30],
  [1.26,24.28],[0.967,24.58],[1.274,24.53],[1.322,24.67],[1.123,24.79],[1.213,24.86],[1.322,24.90],[0.847,24.85],
  [0.901,25.05],[1.313,25.13],[1.382,25.20],[1.102,25.15],[1.614,24.69],[1.62,24.93],[1.193,25.44],[1.523,25.48],
  [1.313,25.53],[1.063,25.72],[1.343,25.71],[1.418,25.77],[1.388,25.88],[1.208,25.89],[1.231,25.85],[1.673,25.80],
  [1.126,26.06],[1.087,26.16],[1.201,26.19],[1.193,26.30],[1.253,26.33],[1.231,26.46],[1.283,26.52],[1.322,26.60],
  [1.532,26.44],[1.463,26.72],[1.463,26.89],[1.403,26.96],[1.201,26.95],[1.027,26.89],[0.952,26.74],[1.048,26.79],
  [1.042,27.11],[0.982,27.21],[1.147,27.27],[1.147,27.35],[1.313,27.45],[1.358,27.48],[1.222,27.51],[1.276,27.51],
  [1.451,27.36],[1.643,27.41],[1.683,27.24],[1.748,27.38],[1.80,27.51],[1.833,26.72],[1.689,27.75],[1.607,28.19],
  [1.457,27.94],[1.391,27.97],[1.283,28.11],[1.216,28.23],[0.946,28.21],[1.222,27.83],[1.193,27.99],[1.117,27.83],
  [1.072,27.88],[1.042,28.09],[1.141,28.04],[1.313,27.99],[1.328,27.91],[1.373,28.15],[0.735,25.61],[0.787,25.77],
  [-0.28,26.74],[-0.031,25.94],[-0.064,27.08],[-0.01,26.89],[-0.016,26.69],[0.03,27.20],[0.065,27.45],[0.05,26.48],
  [0.08,26.23],[0.095,26.36],[0.12,26.49],[0.23,25.88],[0.29,25.67]
];

// ---------- isochrones (color, magnitude) ----------
const parsecIso: P[] = [
  [1.037,18.12],[0.985,18.40],[0.935,18.70],[0.893,19.00],[0.858,19.30],[0.820,19.60],[0.772,20.00],[0.737,20.40],
  [0.710,20.80],[0.690,21.20],[0.676,21.60],[0.664,22.00],[0.656,22.40],[0.649,22.80],[0.643,23.10],[0.634,23.30],
  [0.622,23.39],[0.600,23.44],[0.565,23.47],[0.530,23.49],[0.495,23.53],[0.462,23.58],[0.432,23.63],[0.405,23.69],
  [0.388,23.77],[0.378,23.87],[0.373,23.98],[0.373,24.10],[0.376,24.22],[0.381,24.34],[0.388,24.46],[0.398,24.60],
  [0.411,24.75],[0.425,24.92],[0.441,25.10],[0.457,25.28],[0.473,25.46],[0.490,25.64],[0.508,25.82],[0.530,26.00],
  [0.556,26.20],[0.581,26.40],[0.606,26.58],[0.632,26.78],[0.658,26.97],[0.684,27.15],[0.712,27.34],[0.740,27.52],
  [0.768,27.70],[0.796,27.88],[0.824,28.06],[0.852,28.25],[0.875,28.45],[0.895,28.62]
];

const dartmouthM02: P[] = [
  [1.200,17.80],[1.160,18.00],[1.097,18.30],[1.038,18.60],[0.984,18.90],[0.935,19.20],[0.884,19.55],[0.838,19.90],
  [0.798,20.30],[0.766,20.70],[0.742,21.10],[0.722,21.50],[0.706,21.90],[0.692,22.30],[0.680,22.70],[0.670,23.00],
  [0.660,23.20],[0.648,23.33],[0.627,23.42],[0.596,23.46],[0.558,23.49],[0.520,23.53],[0.484,23.58],[0.450,23.64],
  [0.421,23.71],[0.400,23.80],[0.387,23.90],[0.381,24.01],[0.380,24.13],[0.383,24.26],[0.389,24.41],[0.399,24.57],
  [0.412,24.74],[0.427,24.91],[0.443,25.09],[0.460,25.27],[0.477,25.46],[0.496,25.65],[0.516,25.84],[0.538,26.03],
  [0.562,26.23],[0.588,26.43],[0.615,26.63],[0.643,26.83],[0.671,27.03],[0.700,27.22],[0.732,27.41],[0.765,27.60],
  [0.800,27.79],[0.838,27.99],[0.878,28.19],[0.918,28.38],[0.960,28.58]
];

const dartmouth00: P[] = [
  [1.146,17.80],[1.106,18.00],[1.046,18.30],[0.991,18.60],[0.941,18.90],[0.896,19.20],[0.849,19.55],[0.806,19.90],
  [0.768,20.30],[0.741,20.70],[0.721,21.10],[0.706,21.50],[0.692,21.90],[0.680,22.30],[0.670,22.70],[0.662,23.00],
  [0.652,23.20],[0.640,23.33],[0.618,23.41],[0.588,23.45],[0.551,23.48],[0.513,23.52],[0.478,23.57],[0.445,23.63],
  [0.417,23.70],[0.397,23.79],[0.384,23.89],[0.378,24.00],[0.377,24.12],[0.380,24.25],[0.386,24.40],[0.396,24.56],
  [0.409,24.73],[0.424,24.90],[0.440,25.08],[0.456,25.26],[0.473,25.45],[0.491,25.64],[0.510,25.83],[0.531,26.02],
  [0.555,26.22],[0.580,26.42],[0.606,26.62],[0.633,26.82],[0.660,27.02],[0.688,27.21],[0.717,27.40],[0.747,27.59],
  [0.779,27.78],[0.812,27.98],[0.846,28.18],[0.881,28.38],[0.914,28.56]
];

const dartmouthP02: P[] = [
  [1.120,17.80],[1.080,18.00],[1.022,18.30],[0.968,18.60],[0.919,18.90],[0.875,19.20],[0.829,19.55],[0.786,19.90],
  [0.750,20.30],[0.724,20.70],[0.705,21.10],[0.691,21.50],[0.678,21.90],[0.667,22.30],[0.658,22.70],[0.650,23.00],
  [0.642,23.20],[0.631,23.33],[0.612,23.41],[0.583,23.45],[0.546,23.48],[0.508,23.52],[0.473,23.57],[0.440,23.63],
  [0.412,23.70],[0.392,23.79],[0.379,23.89],[0.373,24.00],[0.372,24.12],[0.375,24.25],[0.381,24.40],[0.391,24.56],
  [0.404,24.73],[0.419,24.90],[0.435,25.08],[0.451,25.26],[0.468,25.45],[0.486,25.64],[0.505,25.83],[0.526,26.02],
  [0.550,26.22],[0.575,26.42],[0.601,26.62],[0.628,26.82],[0.655,27.02],[0.683,27.21],[0.712,27.40],[0.742,27.59],
  [0.773,27.78],[0.806,27.98],[0.840,28.18],[0.875,28.38],[0.908,28.56]
];

const dartmouthP04: P[] = [
  [1.140,17.80],[1.100,18.00],[1.040,18.30],[0.985,18.60],[0.935,18.90],[0.890,19.20],[0.843,19.55],[0.800,19.90],
  [0.762,20.30],[0.735,20.70],[0.715,21.10],[0.700,21.50],[0.686,21.90],[0.674,22.30],[0.664,22.70],[0.656,23.00],
  [0.647,23.20],[0.635,23.33],[0.615,23.41],[0.585,23.45],[0.548,23.48],[0.510,23.52],[0.475,23.57],[0.442,23.63],
  [0.414,23.70],[0.394,23.79],[0.381,23.89],[0.375,24.00],[0.374,24.12],[0.377,24.25],[0.383,24.40],[0.393,24.56],
  [0.406,24.73],[0.421,24.90],[0.437,25.08],[0.453,25.26],[0.470,25.45],[0.488,25.64],[0.507,25.83],[0.528,26.02],
  [0.552,26.22],[0.577,26.42],[0.603,26.62],[0.630,26.82],[0.657,27.02],[0.685,27.21],[0.714,27.40],[0.744,27.59],
  [0.775,27.78],[0.808,27.98],[0.842,28.18],[0.877,28.38],[0.910,28.56]
];

const allStars: P[] = [
  ...rgbStars, ...blueStragglers, ...subgiantStars, ...msBright, ...msBrightExtra, ...msRedSide, ...msWings,
  ...msMid, ...msMidExtra, ...msFaint, ...msFaintExtra, ...msFaintest, ...fieldStars
];

// ---------- helpers ----------
const SERIF = "'Liberation Serif', 'Times New Roman', serif";
const SANS = "'Liberation Sans', Arial, sans-serif";
const fmtTick = (v: number) => (v < 0 ? "\u2212" : "") + Math.abs(v).toFixed(1);
const toXY = (arr: P[]) => arr.map(([x, y]) => ({ x, y }));

const framePlugin = {
  id: "frame",
  beforeDatasetsDraw(chart: any) {
    const { ctx, chartArea } = chart;
    const { left, right, top, bottom } = chartArea;
    const xs = chart.scales.x;
    const ys = chart.scales.y;
    ctx.save();
    ctx.strokeStyle = "#ebebeb";
    ctx.lineWidth = 1;
    ctx.beginPath();
    for (const v of xTicks) {
      const px = Math.round(xs.getPixelForValue(v)) + 0.5;
      ctx.moveTo(px, top);
      ctx.lineTo(px, bottom);
    }
    for (const v of yTicks) {
      const py = Math.round(ys.getPixelForValue(v)) + 0.5;
      ctx.moveTo(left, py);
      ctx.lineTo(right, py);
    }
    ctx.stroke();
    ctx.restore();
  },
  afterDatasetsDraw(chart: any) {
    const { ctx, chartArea } = chart;
    const { left, right, top, bottom } = chartArea;
    const xs = chart.scales.x;
    const ys = chart.scales.y;
    const tl = 7;
    ctx.save();
    ctx.strokeStyle = "#111";
    ctx.lineWidth = 2;
    ctx.beginPath();
    for (const v of xTicks) {
      const px = xs.getPixelForValue(v);
      ctx.moveTo(px, top);
      ctx.lineTo(px, top + tl);
      ctx.moveTo(px, bottom);
      ctx.lineTo(px, bottom - tl);
    }
    for (const v of yTicks) {
      const py = ys.getPixelForValue(v);
      ctx.moveTo(left, py);
      ctx.lineTo(left + tl, py);
      ctx.moveTo(right, py);
      ctx.lineTo(right - tl, py);
    }
    ctx.stroke();
    ctx.strokeRect(left, top, right - left, bottom - top);
    ctx.restore();
  },
};

const legendPlugin = {
  id: "isoLegend",
  afterDraw(chart: any, _args: any, opts: any) {
    const { ctx, chartArea } = chart;
    const left = chartArea.left;
    ctx.save();
    ctx.fillStyle = "#111";
    ctx.font = `22px ${SANS}`;
    ctx.textBaseline = "alphabetic";
    ctx.textAlign = "left";
    ctx.fillText(opts.title, left + opts.titleDx, 49);
    const lines = chart.data.datasets.filter((d: any) => d.showLine);
    lines.forEach((d: any, i: number) => {
      const y = 67 + i * 21.8;
      ctx.strokeStyle = d.borderColor;
      ctx.lineWidth = 2.5;
      ctx.beginPath();
      ctx.moveTo(left + opts.lineDx, y);
      ctx.lineTo(left + opts.lineDx + 21.6, y);
      ctx.stroke();
      ctx.fillStyle = "#222";
      ctx.font = `15px ${SANS}`;
      ctx.textBaseline = "middle";
      ctx.fillText(d.label, left + opts.lineDx + 37.5, y + 0.5);
    });
    ctx.restore();
  },
};

function buildConfig(isLeft: boolean): any {
  const lineSets = isLeft
    ? [{ data: parsecIso, label: parsecLabels[0], color: parsecColors[0] }]
    : [
        { data: dartmouthM02, label: dartmouthLabels[0], color: dartmouthColors[0] },
        { data: dartmouth00, label: dartmouthLabels[1], color: dartmouthColors[1] },
        { data: dartmouthP02, label: dartmouthLabels[2], color: dartmouthColors[2] },
        { data: dartmouthP04, label: dartmouthLabels[3], color: dartmouthColors[3] },
      ];
  const datasets: any[] = [
    {
      label: "stars",
      data: toXY(allStars),
      showLine: false,
      pointRadius: 2.2,
      pointHoverRadius: 2.2,
      pointBorderWidth: 0,
      pointBackgroundColor: isLeft ? "#000000" : "#c9c9c9",
      order: 10,
    },
    ...lineSets.map((s, i) => ({
      label: s.label,
      data: toXY(s.data),
      showLine: true,
      borderColor: s.color,
      backgroundColor: s.color,
      borderWidth: 2,
      pointRadius: 0,
      tension: 0.3,
      fill: false,
      order: 5 - i,
    })),
  ];

  const xScale: any = {
    type: "linear",
    min: xRange[0],
    max: xRange[1],
    afterBuildTicks: (s: any) => {
      s.ticks = xTicks.map((v) => ({ value: v }));
    },
    afterFit: (s: any) => {
      s.height = 63.7;
      s.paddingLeft = 0;
      s.paddingRight = 0;
    },
    grid: { display: false, drawTicks: false },
    border: { display: false },
    ticks: {
      color: "#111",
      font: { family: SERIF, size: 23, lineHeight: 1 },
      padding: 7,
      maxRotation: 0,
      autoSkip: false,
      callback: (v: any) => fmtTick(Number(v)),
    },
    title: {
      display: true,
      text: xTitle,
      color: "#111",
      font: { family: SANS, size: 30, lineHeight: 1.1 },
      padding: { top: 0, bottom: 1 },
    },
  };

  const yScale: any = {
    type: "linear",
    reverse: true,
    min: yRange[0],
    max: yRange[1],
    display: isLeft,
    afterBuildTicks: (s: any) => {
      s.ticks = yTicks.map((v) => ({ value: v }));
    },
    afterFit: (s: any) => {
      if (isLeft) s.width = 81.2;
      s.paddingTop = 0;
      s.paddingBottom = 0;
    },
    grid: { display: false, drawTicks: false },
    border: { display: false },
    ticks: {
      color: "#111",
      font: { family: SERIF, size: 24, lineHeight: 1 },
      padding: 11,
      autoSkip: false,
      callback: (v: any) => String(v),
    },
    title: {
      display: true,
      text: yTitle,
      color: "#111",
      font: { family: SANS, size: 31, lineHeight: 1.1 },
      padding: { top: 4, bottom: 0 },
    },
  };

  return {
    type: "scatter",
    data: { datasets },
    options: {
      animation: false,
      responsive: false,
      devicePixelRatio: 1,
      events: [],
      layout: {
        padding: isLeft
          ? { left: 0, right: 17.2, top: 12.9, bottom: 0 }
          : { left: 13.9, right: 14.5, top: 12.9, bottom: 0 },
      },
      scales: { x: xScale, y: yScale },
      plugins: {
        legend: { display: false },
        tooltip: { enabled: false },
        isoLegend: isLeft
          ? { title: parsecTitle, titleDx: 17.1, lineDx: 11.5 }
          : { title: dartmouthTitle, titleDx: 12.8, lineDx: 11.1 },
      },
    },
    plugins: [framePlugin, legendPlugin],
  };
}

export default function App() {
  const leftRef = useRef<HTMLCanvasElement | null>(null);
  const rightRef = useRef<HTMLCanvasElement | null>(null);

  useEffect(() => {
    document.body.style.margin = "0";
    document.body.style.background = "#ffffff";
    const charts: Chart[] = [];
    if (leftRef.current) charts.push(new Chart(leftRef.current, buildConfig(true)));
    if (rightRef.current) charts.push(new Chart(rightRef.current, buildConfig(false)));
    return () => charts.forEach((c) => c.destroy());
  }, []);

  return (
    <div
      style={{
        position: "relative",
        width: 644,
        height: 733,
        overflow: "hidden",
        background: "#ffffff",
      }}
    >
      <canvas
        ref={leftRef}
        width={380}
        height={733}
        style={{ position: "absolute", left: 0, top: 0, width: 380, height: 733 }}
      />
      <canvas
        ref={rightRef}
        width={310}
        height={733}
        style={{ position: "absolute", left: 350, top: 0, width: 310, height: 733 }}
      />
    </div>
  );
}
